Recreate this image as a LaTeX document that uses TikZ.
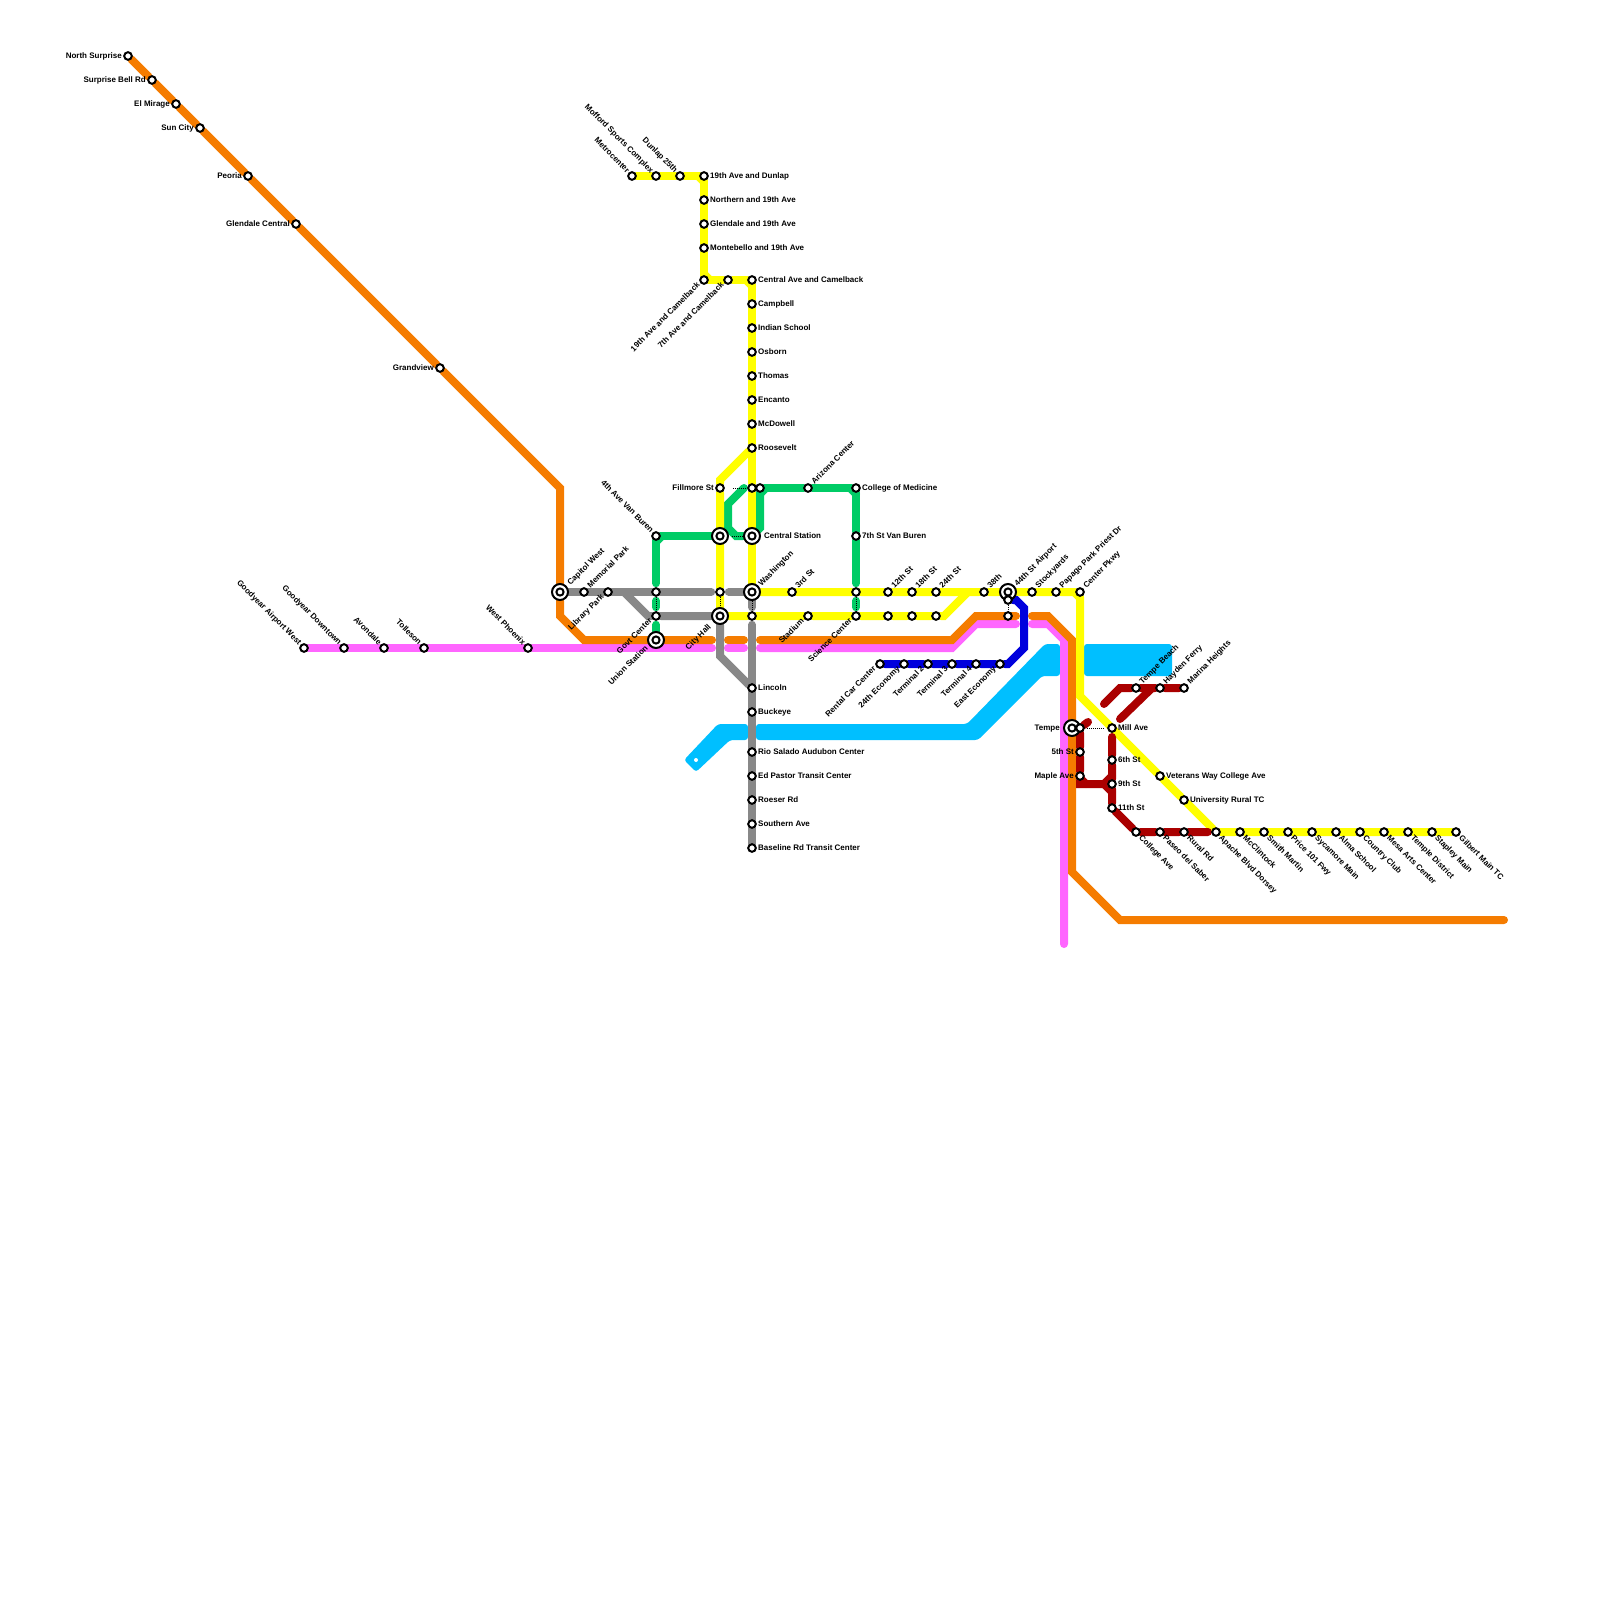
\documentclass[tikz,border=0pt]{standalone}
\usepackage{fontspec}
\setmainfont{Liberation Sans}
\usetikzlibrary{backgrounds}

\definecolor{lineorange}{HTML}{F57C00}
\definecolor{linepink}{HTML}{FF66FF}
\definecolor{lineyellow}{HTML}{FFFF00}
\definecolor{linegreen}{HTML}{00CC66}
\definecolor{linegrey}{HTML}{888888}
\definecolor{lineblue}{HTML}{0000DD}
\definecolor{linesky}{HTML}{00BFFF}
\definecolor{linered}{HTML}{AA0000}

\begin{document}
\begin{tikzpicture}[x=1pt,y=-1pt]
\tikzset{
  stop/.style={circle,draw=black,fill=white,line width=2pt,minimum size=7.6pt,inner sep=0pt},
  bigstop/.style={circle,draw=black,fill=white,line width=2pt,minimum size=16pt,inner sep=0pt,
    path picture={\draw[line width=2pt] (path picture bounding box.center) circle (3.6pt);}},
  skydot/.style={circle,fill=white,minimum size=4pt,inner sep=0pt},
  metro/.style={line width=8pt,line cap=round,line join=miter},
  orangeline/.style={metro,draw=lineorange},
  pinkline/.style={metro,draw=linepink},
  yellowline/.style={metro,draw=lineyellow},
  greenline/.style={metro,draw=linegreen},
  greyline/.style={metro,draw=linegrey},
  blueline/.style={metro,draw=lineblue},
  redline/.style={metro,draw=linered},
  skyband/.style={fill=linesky,rounded corners=3pt},
  transfer/.style={draw=black,line width=1pt,dash pattern=on 1pt off 1pt},
  lab/.style={font=\fontsize{8}{9}\selectfont\bfseries,inner sep=0pt,text height=5.8pt,text depth=1.6pt},
  labe/.style={lab,xshift=6pt,anchor=west},
  labw/.style={lab,xshift=-6pt,anchor=east},
  labne/.style={lab,xshift=5pt,yshift=5pt,rotate=45,anchor=west},
  labnw/.style={lab,xshift=-4pt,yshift=4pt,rotate=-45,anchor=east},
  labsw/.style={lab,xshift=-5pt,yshift=-4pt,rotate=45,anchor=east},
  labse/.style={lab,xshift=4pt,yshift=-5pt,rotate=-45,anchor=west}
}
\useasboundingbox (0,0) rectangle (1600,1600);
% stations
\node[stop] (n_northsurprise) at (128,56) {};
\node[stop] (n_surprisebell) at (152,80) {};
\node[stop] (n_elmirage) at (176,104) {};
\node[stop] (n_suncity) at (200,128) {};
\node[stop] (n_peoria) at (248,176) {};
\node[stop] (n_glendalecentral) at (296,224) {};
\node[stop] (n_grandview) at (440,368) {};
\node[bigstop] (n_capitolwest) at (560,592) {};
\node[stop] (n_memorialpark) at (584,592) {};
\node[stop] (n_librarypark) at (608,592) {};
\node[stop] (n_airportwest) at (304,648) {};
\node[stop] (n_gydowntown) at (344,648) {};
\node[stop] (n_avondale) at (384,648) {};
\node[stop] (n_tolleson) at (424,648) {};
\node[stop] (n_westphoenix) at (528,648) {};
\node[stop] (n_metrocenter) at (632,176) {};
\node[stop] (n_mofford) at (656,176) {};
\node[stop] (n_dunlap25) at (680,176) {};
\node[stop] (n_dunlap19) at (704,176) {};
\node[stop] (n_northern) at (704,200) {};
\node[stop] (n_glendale19) at (704,224) {};
\node[stop] (n_montebello) at (704,248) {};
\node[stop] (n_camel19) at (704,280) {};
\node[stop] (n_camel7) at (728,280) {};
\node[stop] (n_camelcentral) at (752,280) {};
\node[stop] (n_campbell) at (752,304) {};
\node[stop] (n_indian) at (752,328) {};
\node[stop] (n_osborn) at (752,352) {};
\node[stop] (n_thomas) at (752,376) {};
\node[stop] (n_encanto) at (752,400) {};
\node[stop] (n_mcdowell) at (752,424) {};
\node[stop] (n_roosevelt) at (752,448) {};
\node[stop] (n_fillmore) at (720,488) {};
\node[stop] (n_fillmore2) at (752,488) {};
\node[stop] (n_fillmore3) at (760,488) {};
\node[stop] (n_arizona) at (808,488) {};
\node[stop] (n_college) at (856,488) {};
\node[stop] (n_vanburen7) at (856,536) {};
\node[stop] (n_vanburen4) at (656,536) {};
\node[bigstop] (n_vanburen1) at (720,536) {};
\node[bigstop] (n_central) at (752,536) {};
\node[stop] (n_jeff4) at (656,592) {};
\node[stop] (n_jeff1) at (720,592) {};
\node[bigstop] (n_washington) at (752,592) {};
\node[stop] (n_third) at (792,592) {};
\node[stop] (n_sciencetop) at (856,592) {};
\node[stop] (n_st12) at (888,592) {};
\node[stop] (n_st18) at (912,592) {};
\node[stop] (n_st24) at (936,592) {};
\node[stop] (n_st38) at (984,592) {};
\node[bigstop] (n_airport) at (1008,592) {};
\node[stop] (n_stockyards) at (1032,592) {};
\node[stop] (n_papago) at (1056,592) {};
\node[stop] (n_centerpkwy) at (1080,592) {};
\node[stop] (n_govt) at (656,616) {};
\node[bigstop] (n_cityhall) at (720,616) {};
\node[stop] (n_jeffcentral) at (752,616) {};
\node[stop] (n_stadium) at (808,616) {};
\node[stop] (n_science) at (856,616) {};
\node[stop] (n_low12) at (888,616) {};
\node[stop] (n_low18) at (912,616) {};
\node[stop] (n_low24) at (936,616) {};
\node[stop] (n_airportsky) at (1008,600) {};
\node[stop] (n_airportlow) at (1008,616) {};
\node[bigstop] (n_union) at (656,640) {};
\node[stop] (n_rental) at (880,664) {};
\node[stop] (n_economy24) at (904,664) {};
\node[stop] (n_terminal2) at (928,664) {};
\node[stop] (n_terminal3) at (952,664) {};
\node[stop] (n_terminal4) at (976,664) {};
\node[stop] (n_eastecon) at (1000,664) {};
\node[stop] (n_lincoln) at (752,688) {};
\node[stop] (n_buckeye) at (752,712) {};
\node[stop] (n_rio) at (752,752) {};
\node[stop] (n_pastor) at (752,776) {};
\node[stop] (n_roeser) at (752,800) {};
\node[stop] (n_southern) at (752,824) {};
\node[stop] (n_baseline) at (752,848) {};
\node[skydot] (n_skyend) at (696,760) {};
\node[stop] (n_tempebeach) at (1136,688) {};
\node[stop] (n_hayden) at (1160,688) {};
\node[stop] (n_marina) at (1184,688) {};
\node[bigstop] (n_tempe) at (1072,728) {};
\node[stop] (n_tempe2) at (1080,728) {};
\node[stop] (n_fifth) at (1080,752) {};
\node[stop] (n_maple) at (1080,776) {};
\node[stop] (n_mill) at (1112,728) {};
\node[stop] (n_sixth) at (1112,760) {};
\node[stop] (n_ninth) at (1112,784) {};
\node[stop] (n_eleventh) at (1112,808) {};
\node[stop] (n_veterans) at (1160,776) {};
\node[stop] (n_university) at (1184,800) {};
\node[stop] (n_collegeave) at (1136,832) {};
\node[stop] (n_paseo) at (1160,832) {};
\node[stop] (n_rural) at (1184,832) {};
\node[stop] (n_apache) at (1216,832) {};
\node[stop] (n_mcclintock) at (1240,832) {};
\node[stop] (n_smith) at (1264,832) {};
\node[stop] (n_price) at (1288,832) {};
\node[stop] (n_sycamore) at (1312,832) {};
\node[stop] (n_alma) at (1336,832) {};
\node[stop] (n_country) at (1360,832) {};
\node[stop] (n_mesa) at (1384,832) {};
\node[stop] (n_temple) at (1408,832) {};
\node[stop] (n_stapley) at (1432,832) {};
\node[stop] (n_gilbert) at (1456,832) {};
% names
\node[labw] (t_northsurprise) at (n_northsurprise) {North Surprise};
\node[labw] (t_surprisebell) at (n_surprisebell) {Surprise Bell Rd};
\node[labw] (t_elmirage) at (n_elmirage) {El Mirage};
\node[labw] (t_suncity) at (n_suncity) {Sun City};
\node[labw] (t_peoria) at (n_peoria) {Peoria};
\node[labw] (t_glendalecentral) at (n_glendalecentral) {Glendale Central};
\node[labw] (t_grandview) at (n_grandview) {Grandview};
\node[xshift=4pt,yshift=3pt,labne] (t_capitolwest) at (n_capitolwest) {Capitol West};
\node[labne] (t_memorialpark) at (n_memorialpark) {Memorial Park};
\node[labsw] (t_librarypark) at (n_librarypark) {Library Park};
\node[labnw] (t_airportwest) at (n_airportwest) {Goodyear Airport West};
\node[labnw] (t_gydowntown) at (n_gydowntown) {Goodyear Downtown};
\node[labnw] (t_avondale) at (n_avondale) {Avondale};
\node[labnw] (t_tolleson) at (n_tolleson) {Tolleson};
\node[labnw] (t_westphoenix) at (n_westphoenix) {West Phoenix};
\node[labnw] (t_metrocenter) at (n_metrocenter) {Metrocenter};
\node[labnw] (t_mofford) at (n_mofford) {Mofford Sports Complex};
\node[labnw] (t_dunlap25) at (n_dunlap25) {Dunlap 25th};
\node[labe] (t_dunlap19) at (n_dunlap19) {19th Ave and Dunlap};
\node[labe] (t_northern) at (n_northern) {Northern and 19th Ave};
\node[labe] (t_glendale19) at (n_glendale19) {Glendale and 19th Ave};
\node[labe] (t_montebello) at (n_montebello) {Montebello and 19th Ave};
\node[labsw] (t_camel19) at (n_camel19) {19th Ave and Camelback};
\node[labsw] (t_camel7) at (n_camel7) {7th Ave and Camelback};
\node[labe] (t_camelcentral) at (n_camelcentral) {Central Ave and Camelback};
\node[labe] (t_campbell) at (n_campbell) {Campbell};
\node[labe] (t_indian) at (n_indian) {Indian School};
\node[labe] (t_osborn) at (n_osborn) {Osborn};
\node[labe] (t_thomas) at (n_thomas) {Thomas};
\node[labe] (t_encanto) at (n_encanto) {Encanto};
\node[labe] (t_mcdowell) at (n_mcdowell) {McDowell};
\node[labe] (t_roosevelt) at (n_roosevelt) {Roosevelt};
\node[labw] (t_fillmore) at (n_fillmore) {Fillmore St};
\node[labne] (t_arizona) at (n_arizona) {Arizona Center};
\node[labe] (t_college) at (n_college) {College of Medicine};
\node[labe] (t_vanburen7) at (n_vanburen7) {7th St Van Buren};
\node[labnw] (t_vanburen4) at (n_vanburen4) {4th Ave Van Buren};
\node[xshift=6pt,labe] (t_central) at (n_central) {Central Station};
\node[xshift=3pt,yshift=2pt,labne] (t_washington) at (n_washington) {Washington};
\node[labne] (t_third) at (n_third) {3rd St};
\node[labne] (t_st12) at (n_st12) {12th St};
\node[labne] (t_st18) at (n_st18) {18th St};
\node[labne] (t_st24) at (n_st24) {24th St};
\node[labne] (t_st38) at (n_st38) {38th};
\node[xshift=3pt,yshift=2pt,labne] (t_airport) at (n_airport) {44th St Airport};
\node[labne] (t_stockyards) at (n_stockyards) {Stockyards};
\node[labne] (t_papago) at (n_papago) {Papago Park Priest Dr};
\node[labne] (t_centerpkwy) at (n_centerpkwy) {Center Pkwy};
\node[labsw] (t_govt) at (n_govt) {Govt Center};
\node[xshift=-5pt,yshift=-6pt,labsw] (t_cityhall) at (n_cityhall) {City Hall};
\node[labsw] (t_stadium) at (n_stadium) {Stadium};
\node[labsw] (t_science) at (n_science) {Science Center};
\node[xshift=-4pt,yshift=-3pt,labsw] (t_union) at (n_union) {Union Station};
\node[labsw] (t_rental) at (n_rental) {Rental Car Center};
\node[labsw] (t_economy24) at (n_economy24) {24th Economy};
\node[labsw] (t_terminal2) at (n_terminal2) {Terminal 2};
\node[labsw] (t_terminal3) at (n_terminal3) {Terminal 3};
\node[labsw] (t_terminal4) at (n_terminal4) {Terminal 4};
\node[labsw] (t_eastecon) at (n_eastecon) {East Economy};
\node[labe] (t_lincoln) at (n_lincoln) {Lincoln};
\node[labe] (t_buckeye) at (n_buckeye) {Buckeye};
\node[labe] (t_rio) at (n_rio) {Rio Salado Audubon Center};
\node[labe] (t_pastor) at (n_pastor) {Ed Pastor Transit Center};
\node[labe] (t_roeser) at (n_roeser) {Roeser Rd};
\node[labe] (t_southern) at (n_southern) {Southern Ave};
\node[labe] (t_baseline) at (n_baseline) {Baseline Rd Transit Center};
\node[labne] (t_tempebeach) at (n_tempebeach) {Tempe Beach};
\node[labne] (t_hayden) at (n_hayden) {Hayden Ferry};
\node[labne] (t_marina) at (n_marina) {Marina Heights};
\node[xshift=-6pt,labw] (t_tempe) at (n_tempe) {Tempe};
\node[labw] (t_fifth) at (n_fifth) {5th St};
\node[labw] (t_maple) at (n_maple) {Maple Ave};
\node[labe] (t_mill) at (n_mill) {Mill Ave};
\node[labe] (t_sixth) at (n_sixth) {6th St};
\node[labe] (t_ninth) at (n_ninth) {9th St};
\node[labe] (t_eleventh) at (n_eleventh) {11th St};
\node[labe] (t_veterans) at (n_veterans) {Veterans Way College Ave};
\node[labe] (t_university) at (n_university) {University Rural TC};
\node[labse] (t_collegeave) at (n_collegeave) {College Ave};
\node[labse] (t_paseo) at (n_paseo) {Paseo del Saber};
\node[labse] (t_rural) at (n_rural) {Rural Rd};
\node[labse] (t_apache) at (n_apache) {Apache Blvd Dorsey};
\node[labse] (t_mcclintock) at (n_mcclintock) {McClintock};
\node[labse] (t_smith) at (n_smith) {Smith Martin};
\node[labse] (t_price) at (n_price) {Price 101 Fwy};
\node[labse] (t_sycamore) at (n_sycamore) {Sycamore Main};
\node[labse] (t_alma) at (n_alma) {Alma School};
\node[labse] (t_country) at (n_country) {Country Club};
\node[labse] (t_mesa) at (n_mesa) {Mesa Arts Center};
\node[labse] (t_temple) at (n_temple) {Temple District};
\node[labse] (t_stapley) at (n_stapley) {Stapley Main};
\node[labse] (t_gilbert) at (n_gilbert) {Gilbert Main TC};
% free line ends
\coordinate (c_or1) at (712,640);
\coordinate (c_or2) at (728,640);
\coordinate (c_or3) at (744,640);
\coordinate (c_or4) at (760,640);
\coordinate (c_or5) at (1016,616);
\coordinate (c_or6) at (1032,616);
\coordinate (c_or7) at (1504,920);
\coordinate (c_pk1) at (712,648);
\coordinate (c_pk2) at (728,648);
\coordinate (c_pk3) at (744,648);
\coordinate (c_pk4) at (760,648);
\coordinate (c_pk5) at (1016,624);
\coordinate (c_pk6) at (1032,624);
\coordinate (c_pk7) at (1064,944);
\coordinate (c_gr1) at (624,592);
\coordinate (c_gn1) at (744,488);
\coordinate (c_rd1) at (1088,722);
\coordinate (c_rd2) at (1104,784);
\coordinate (c_rd3) at (1112,737);
\coordinate (c_rd4) at (1104,704);
\coordinate (c_rd5) at (1120,719);
\coordinate (c_rd6) at (1208,832);
\begin{pgfonlayer}{background}
\fill[skyband] (684,760) -- (718,724) -- (748,724) -- (748,740) -- (730,740) -- (696,772) -- cycle;
\fill[skyband] (756,724) -- (967,724) -- (1045,644) -- (1060,644) -- (1060,676) -- (1042,676) -- (978,740) -- (756,740) -- cycle;
\fill[skyband] (1084,644) rectangle (1172,676);
\draw[pinkline] (n_airportwest) -- (n_gydowntown) -- (n_avondale) -- (n_tolleson) -- (n_westphoenix) -- (c_pk1);
\draw[pinkline] (c_pk2) -- (c_pk3);
\draw[pinkline] (c_pk4) -- (952,648) -- (976,624) -- (c_pk5);
\draw[pinkline] (c_pk6) -- (1048,624) -- (1064,640) -- (c_pk7);
\draw[orangeline] (n_northsurprise) -- (n_surprisebell) -- (n_elmirage) -- (n_suncity) -- (n_peoria) -- (n_glendalecentral) -- (n_grandview) -- (560,488) -- (n_capitolwest) -- (560,616) -- (584,640) -- (n_union) -- (c_or1);
\draw[orangeline] (c_or2) -- (c_or3);
\draw[orangeline] (c_or4) -- (952,640) -- (976,616) -- (c_or5);
\draw[orangeline] (c_or6) -- (1048,616) -- (1072,640) -- (1072,872) -- (1120,920) -- (c_or7);
\draw[greenline] (n_vanburen4) -- (n_vanburen1);
\draw[greenline,shorten >=4pt] (n_vanburen4) -- (n_jeff4);
\draw[greenline] (662,536) -- (656,542);
\draw[greenline,shorten <=4pt,shorten >=4pt] (n_jeff4) -- (n_govt);
\draw[greenline,shorten <=4pt] (n_govt) -- (n_union);
\draw[greenline] (n_central) -- (736,536) -- (728,528) -- (728,504) -- (c_gn1);
\draw[greenline] (n_central) -- (760,528) -- (n_fillmore3);
\draw[greenline] (766,488) -- (760,494);
\draw[greenline] (n_fillmore3) -- (n_arizona) -- (n_college) -- (n_vanburen7);
\draw[greenline] (850,488) -- (856,494);
\draw[greenline,shorten >=4pt] (n_vanburen7) -- (n_sciencetop);
\draw[greenline,shorten <=4pt,shorten >=4pt] (n_sciencetop) -- (n_science);
\draw[yellowline] (n_metrocenter) -- (n_mofford) -- (n_dunlap25) -- (n_dunlap19) -- (n_northern) -- (n_glendale19) -- (n_montebello) -- (n_camel19) -- (n_camel7) -- (n_camelcentral) -- (n_campbell) -- (n_indian) -- (n_osborn) -- (n_thomas) -- (n_encanto) -- (n_mcdowell) -- (n_roosevelt) -- (n_fillmore2) -- (n_central) -- (n_washington);
\draw[yellowline] (698,176) -- (704,182);
\draw[yellowline] (704,274) -- (710,280);
\draw[yellowline] (746,280) -- (752,286);
\draw[yellowline] (n_roosevelt) -- (720,480) -- (n_fillmore) -- (n_vanburen1) -- (n_jeff1) -- (n_cityhall);
\draw[yellowline] (n_washington) -- (n_third) -- (n_sciencetop) -- (n_st12) -- (n_st18) -- (n_st24) -- (n_st38) -- (n_airport) -- (n_stockyards) -- (n_papago) -- (n_centerpkwy) -- (1080,696) -- (n_veterans) -- (n_university) -- (n_apache) -- (n_mcclintock) -- (n_smith) -- (n_price) -- (n_sycamore) -- (n_alma) -- (n_country) -- (n_mesa) -- (n_temple) -- (n_stapley) -- (n_gilbert);
\draw[yellowline] (1074,592) -- (1080,598);
\draw[yellowline] (n_cityhall) -- (n_jeffcentral) -- (n_stadium) -- (n_science) -- (n_low12) -- (n_low18) -- (n_low24) -- (944,616) -- (968,592);
\draw[greyline] (n_capitolwest) -- (n_memorialpark) -- (n_librarypark) -- (n_jeff4);
\draw[greyline,shorten >=4pt] (n_jeff4) -- (n_jeff1);
\draw[greyline,shorten <=4pt] (n_jeff1) -- (n_washington);
\draw[greyline] (c_gr1) -- (648,616) -- (n_govt) -- (n_cityhall) -- (720,656) -- (n_lincoln);
\draw[greyline,shorten >=4pt] (n_washington) -- (n_jeffcentral);
\draw[greyline,shorten <=4pt] (n_jeffcentral) -- (n_lincoln);
\draw[greyline] (n_lincoln) -- (n_buckeye) -- (n_rio) -- (n_pastor) -- (n_roeser) -- (n_southern) -- (n_baseline);
\draw[blueline] (n_rental) -- (n_economy24) -- (n_terminal2) -- (n_terminal3) -- (n_terminal4) -- (n_eastecon) -- (1008,664) -- (1024,648) -- (1024,608) -- (1016,600) -- (n_airportsky);
\draw[redline] (c_rd1) -- (n_tempe2) -- (n_fifth) -- (n_maple) -- (1080,784) -- (c_rd2) -- (1112,776);
\draw[redline] (1080,778) -- (1086,784);
\draw[redline] (c_rd2) -- (1112,792);
\draw[redline] (c_rd3) -- (n_sixth) -- (n_ninth) -- (n_eleventh) -- (n_collegeave) -- (n_paseo) -- (n_rural) -- (c_rd6);
\draw[redline] (c_rd4) -- (1120,688) -- (n_tempebeach) -- (n_hayden) -- (n_marina);
\draw[redline] (c_rd5) -- (1152,688);
\end{pgfonlayer}
\draw[transfer,shorten <=8pt,shorten >=2pt] (n_fillmore) -- (n_fillmore2);
\draw[transfer,shorten <=3pt] (n_vanburen1) -- (n_central);
\draw[transfer] (n_jeff4) -- (n_govt);
\draw[transfer] (n_jeff1) -- (n_cityhall);
\draw[transfer] (n_washington) -- (n_jeffcentral);
\draw[transfer] (n_sciencetop) -- (n_science);
\draw[transfer] (n_airportsky) -- (n_airportlow);
\draw[transfer,shorten <=2pt,shorten >=4pt] (n_tempe2) -- (n_mill);
\end{tikzpicture}
\end{document}
